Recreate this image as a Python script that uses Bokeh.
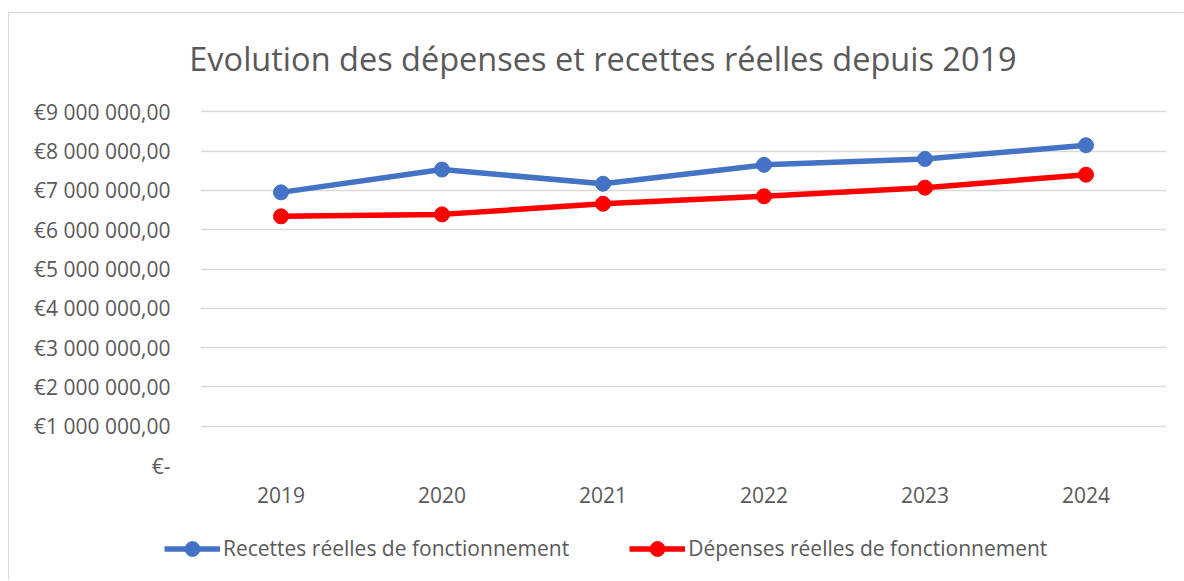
from bokeh.plotting import figure
from bokeh.models import Range1d, FixedTicker, Legend, LegendItem, Label, FactorRange
from bokeh.embed import file_html
from bokeh.resources import INLINE

# ---- data ----
years = ["2019", "2020", "2021", "2022", "2023", "2024"]
recettes = [6950000, 7530000, 7170000, 7650000, 7800000, 8150000]
depenses = [6340000, 6390000, 6660000, 6850000, 7070000, 7400000]
y_ticks = [0, 1000000, 2000000, 3000000, 4000000, 5000000, 6000000, 7000000, 8000000, 9000000]
y_tick_labels = ["€-", "€1 000 000,00", "€2 000 000,00", "€3 000 000,00", "€4 000 000,00",
                 "€5 000 000,00", "€6 000 000,00", "€7 000 000,00", "€8 000 000,00", "€9 000 000,00"]
title_text = "Evolution des dépenses et recettes réelles depuis 2019"
label_recettes = "Recettes réelles de fonctionnement"
label_depenses = "Dépenses réelles de fonctionnement"

BLUE = "#4472C4"
RED = "#FF0000"
GREY_TXT = "#595959"
GRID = "#D9D9D9"
FONT = "Open Sans"
W = 1175
BORDER = "1px solid #D9D9D9"
Y_TOP = 9135000  # small headroom so the top gridline is not clipped


def bare_figure(h, **kw):
    f = figure(width=W, height=h, output_backend="svg", toolbar_location=None,
               x_axis_location=None, y_axis_location=None,
               min_border=0, min_border_left=0, min_border_right=0,
               min_border_top=0, min_border_bottom=0, **kw)
    f.title = None
    f.outline_line_color = None
    f.grid.grid_line_color = None
    f.background_fill_color = "white"
    f.border_fill_color = "white"
    return f


# ---- title strip ----
pt = bare_figure(79)
pt.add_layout(Label(x=593.5, y=34.5, x_units="screen", y_units="screen", text=title_text,
                    text_align="center", text_baseline="alphabetic",
                    text_font=FONT, text_font_size="32.5px", text_color=GREY_TXT))
pt.margin = (12, 0, 0, 8)
pt.styles = {"border-top": BORDER, "border-left": BORDER}

# ---- main chart ----
p = figure(x_range=FactorRange(*years, range_padding=0), y_range=Range1d(0, Y_TOP),
           width=W, height=431, output_backend="svg", toolbar_location=None,
           min_border_left=191, min_border_right=18, min_border_top=15, min_border_bottom=57)
p.title = None
p.outline_line_color = None
p.background_fill_color = "white"
p.border_fill_color = "white"
p.margin = (0, 0, 0, 8)
p.styles = {"border-left": BORDER}

p.xgrid.grid_line_color = None
p.ygrid.grid_line_color = GRID
p.ygrid.grid_line_width = 1.3
p.yaxis.ticker = FixedTicker(ticks=y_ticks)
p.yaxis.major_label_overrides = {t: l for t, l in zip(y_ticks, y_tick_labels)}

for ax in (p.xaxis, p.yaxis):
    ax.axis_line_color = None
    ax.major_tick_line_color = None
    ax.minor_tick_line_color = None
    ax.major_tick_out = 0
    ax.major_tick_in = 0
    ax.major_label_text_color = GREY_TXT
    ax.major_label_text_font = FONT

p.yaxis.major_label_text_font_size = "21px"
p.yaxis.major_label_standoff = 30
p.xaxis.major_label_text_font_size = "21px"
p.xaxis.major_label_standoff = 21

p.line(years, recettes, line_color=BLUE, line_width=5.5)
p.scatter(years, recettes, size=15, fill_color=BLUE, line_color=BLUE)
p.line(years, depenses, line_color=RED, line_width=5.5)
p.scatter(years, depenses, size=15, fill_color=RED, line_color=RED)

# ---- legend strip (series drawn off-range; only their legend glyphs show) ----
pl = bare_figure(58, x_range=FactorRange(*years), y_range=Range1d(-2, -1))
l1 = pl.line(years, recettes, line_color=BLUE, line_width=5.5)
s1 = pl.scatter(years, recettes, size=15, fill_color=BLUE, line_color=BLUE)
l2 = pl.line(years, depenses, line_color=RED, line_width=5.5)
s2 = pl.scatter(years, depenses, size=15, fill_color=RED, line_color=RED)
legend = Legend(items=[LegendItem(label=label_recettes, renderers=[l1, s1]),
                       LegendItem(label=label_depenses, renderers=[l2, s2])],
                orientation="horizontal", location=(155, 13.5),
                glyph_width=56, glyph_height=37, label_height=20, label_standoff=3,
                spacing=60, padding=0, margin=0,
                label_text_font=FONT, label_text_font_size="21px", label_text_color=GREY_TXT,
                border_line_color=None, background_fill_alpha=0)
pl.add_layout(legend, "center")
pl.margin = (0, 0, 0, 8)
pl.styles = {"border-left": BORDER}

open("out.html", "w").write(file_html([pt, p, pl], INLINE))
